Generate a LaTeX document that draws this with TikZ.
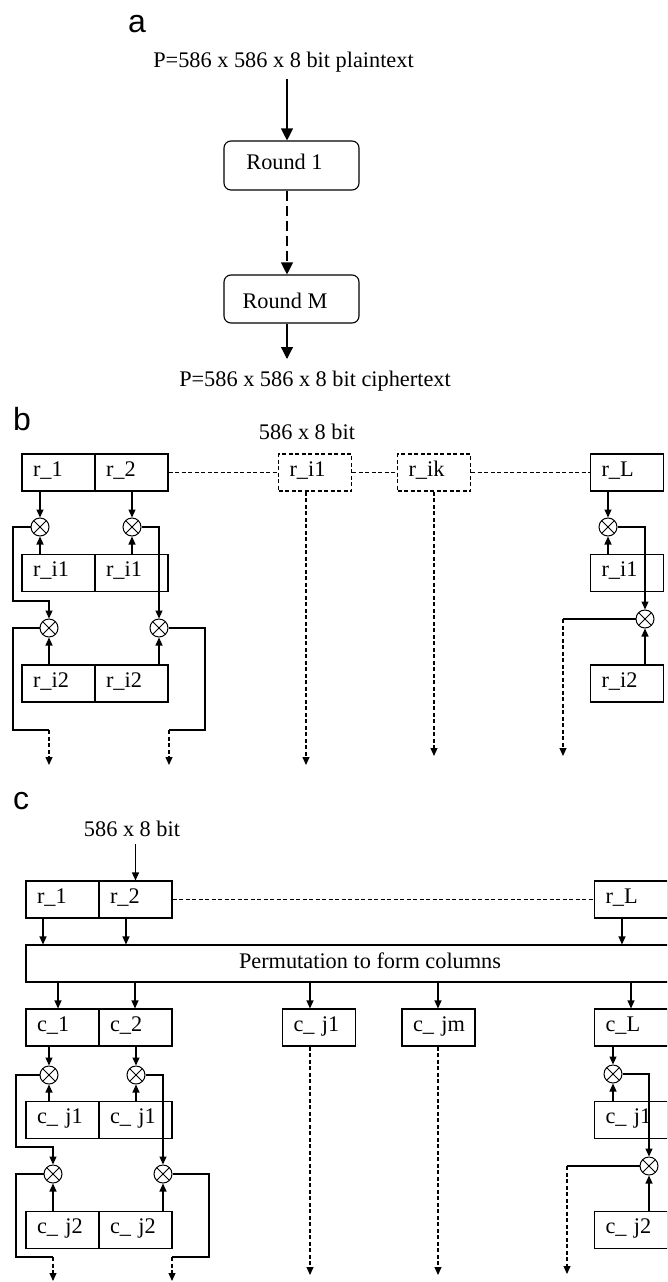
\documentclass[tikz,border=0pt]{standalone}
\usepackage{fontspec}
\setmainfont{Liberation Serif}
\newfontfamily\labfont{Liberation Sans}
\usetikzlibrary{arrows.meta}
\begin{document}
\begin{tikzpicture}[x=1pt,y=-1pt,
  line width=1.1pt,
  font=\fontsize{22.3}{26}\selectfont,
  every node/.style={inner sep=0pt},
  panel/.style={font=\labfont\fontsize{32}{36}\selectfont},
  txt/.style={anchor=base},
  rbox/.style={draw, rectangle, rounded corners=7pt, minimum width=135pt},
  cell/.style={draw, rectangle, minimum height=37pt, text width=51pt, inner xsep=11pt, inner ysep=0pt, align=left, text height=15pt, text depth=8pt,
    execute at begin node={\leavevmode\hbox\bgroup}, execute at end node={\egroup}},
  dl/.style={dash pattern=on 4pt off 2.5pt},
  dcell/.style={cell, dl},
  xor/.style={draw, circle, minimum size=18pt, line width=1pt, path picture={\draw[line width=0.9pt] (path picture bounding box.north west) -- (path picture bounding box.south east) (path picture bounding box.south west) -- (path picture bounding box.north east);}},
  arr/.style={-{Triangle[length=8pt,width=7pt]}},
  bigarr/.style={-{Triangle[length=12pt,width=12pt]}},
]
\useasboundingbox (0,0) rectangle (667,1282);
\clip (0,0) rectangle (667,1282);

% ---------- part a ----------
\node[panel] (la) at (137,24) {a};
\node[txt] (pt) at (283.5,67) {P=586 x 586 x 8 bit plaintext};
\node[rbox, minimum height=49pt] (rd1) at (291.5,165.5) {};
\node[txt] (rd1t) at (284.5,169) {Round 1};
\node[rbox, minimum height=48pt] (rdm) at (291.5,299) {};
\node[txt] (rdmt) at (285,308.3) {Round M};
\node[txt] (ct) at (315,386.5) {P=586 x 586 x 8 bit ciphertext};
\coordinate (a0) at (287,79);
\coordinate (a3) at (287,359);
\draw[bigarr] (a0) -- (a0 |- rd1.north);
\draw[bigarr, dash pattern=on 10pt off 5pt] (rd1.south -| a0) -- (rdm.north -| a0);
\draw[bigarr] (rdm.south -| a3) -- (a3);

% ---------- part b ----------
\node[panel] (lb) at (22,419) {b};
\node[txt] (wb) at (307,439) {586 x 8 bit};
\node[cell] (r1) at (58.5,472.5) {r\_1};
\node[cell] (r2) at (131.5,472.5) {r\_2};
\node[dcell] (ri1) at (315,472.5) {r\_i1};
\node[dcell] (rik) at (434,472.5) {r\_ik};
\node[cell] (rL) at (627,472.5) {r\_L};
\draw[dl] (r2.east) -- (ri1.west);
\draw[dl] (ri1.east) -- (rik.west);
\draw[dl] (rik.east) -- (rL.west);

\node[xor] (x1) at (40,527) {};
\node[xor] (x2) at (132,527) {};
\node[cell] (a1) at (58.5,573) {r\_i1};
\node[cell] (a2) at (131.5,573) {r\_i1};
\node[xor] (x3) at (49,628) {};
\node[xor] (x4) at (159,628) {};
\node[cell] (b1) at (58.5,683.5) {r\_i2};
\node[cell] (b2) at (131.5,683.5) {r\_i2};
\draw[arr] (r1.south -| x1) -- (x1.north);
\draw[arr] (r2.south -| x2) -- (x2.north);
\draw[arr] (a1.north -| x1) -- (x1.south);
\draw[arr] (a2.north -| x2) -- (x2.south);
\draw[arr] (x1.west) -| (13,601) -| (x3.north);
\draw[arr] (x2.east) -| (x4.north);
\draw[arr] (b1.north -| x3) -- (x3.south);
\draw[arr] (b2.north -| x4) -- (x4.south);
\coordinate (o1) at (49,730);
\coordinate (o1e) at (49,765);
\draw (x3.west) -| (13,730) -- (o1);
\draw[arr,dl] (o1) -- (o1e);
\coordinate (o2) at (169,730);
\coordinate (o2e) at (169,765);
\draw (x4.east) -| (205,730) -- (o2);
\draw[arr,dl] (o2) -- (o2e);
\coordinate (d1) at (306,765);
\draw[arr,dl] (ri1.south -| d1) -- (d1);
\coordinate (d2) at (434,756);
\draw[arr,dl] (rik.south -| d2) -- (d2);

\node[xor] (x5) at (608,527) {};
\node[xor] (x6) at (645,619) {};
\node[cell] (a3) at (627,573) {r\_i1};
\node[cell] (b3) at (627,683.5) {r\_i2};
\draw[arr] (rL.south -| x5) -- (x5.north);
\draw[arr] (a3.north -| x5) -- (x5.south);
\draw[arr] (x5.east) -| (x6.north);
\draw[arr] (b3.north -| x6) -- (x6.south);
\coordinate (o3) at (563,619);
\coordinate (o3e) at (563,756);
\draw (x6.west) -- (o3);
\draw[arr,dl] (o3) -- (o3e);

% ---------- part c ----------
\node[panel] (lc) at (21,801) {c};
\node[txt] (wc) at (132,836) {586 x 8 bit};
\node[cell] (cr1) at (62.5,899.5) {r\_1};
\node[cell] (cr2) at (135.5,899.5) {r\_2};
\node[cell] (crL) at (631,899.5) {r\_L};
\coordinate (c0) at (135.5,844);
\draw[arr] (c0) -- (cr2.north);
\draw[dl] (cr2.east) -- (crL.west);
\node[draw, minimum width=688pt, minimum height=37pt, text height=15pt, text depth=5pt] (perm) at (370,963.5) {Permutation to form columns};
\coordinate (k1) at (43,0);
\coordinate (k2) at (126,0);
\coordinate (k3) at (622,0);
\draw[arr] (cr1.south -| k1) -- (perm.north -| k1);
\draw[arr] (cr2.south -| k2) -- (perm.north -| k2);
\draw[arr] (crL.south -| k3) -- (perm.north -| k3);

\node[cell] (c1) at (62.5,1027.5) {c\_1};
\node[cell] (c2) at (135.5,1027.5) {c\_2};
\node[cell] (cj1) at (319,1027.5) {c\_ j1};
\node[cell] (cjm) at (438.5,1027.5) {c\_ jm};
\node[cell] (cL) at (631,1027.5) {c\_L};
\coordinate (m1) at (58,0);
\coordinate (m2) at (135,0);
\coordinate (m3) at (310,0);
\coordinate (m4) at (438,0);
\coordinate (m5) at (631,0);
\draw[arr] (perm.south -| m1) -- (c1.north -| m1);
\draw[arr] (perm.south -| m2) -- (c2.north -| m2);
\draw[arr] (perm.south -| m3) -- (cj1.north -| m3);
\draw[arr] (perm.south -| m4) -- (cjm.north -| m4);
\draw[arr] (perm.south -| m5) -- (cL.north -| m5);
\coordinate (e1) at (310,1275);
\coordinate (e2) at (438,1275);
\draw[arr,dl] (cj1.south -| e1) -- (e1);
\draw[arr,dl] (cjm.south -| e2) -- (e2);

\node[xor] (x7) at (49,1075) {};
\node[xor] (x8) at (136,1075) {};
\node[cell] (g1) at (62.5,1120) {c\_ j1};
\node[cell] (g2) at (135.5,1120) {c\_ j1};
\node[xor] (x9) at (53,1174) {};
\node[xor] (x10) at (163,1174) {};
\node[cell] (h1) at (62.5,1230) {c\_ j2};
\node[cell] (h2) at (135.5,1230) {c\_ j2};
\draw[arr] (c1.south -| x7) -- (x7.north);
\draw[arr] (c2.south -| x8) -- (x8.north);
\draw[arr] (g1.north -| x7) -- (x7.south);
\draw[arr] (g2.north -| x8) -- (x8.south);
\draw[arr] (x7.west) -| (16,1147) -| (x9.north);
\draw[arr] (x8.east) -| (x10.north);
\draw[arr] (h1.north -| x9) -- (x9.south);
\draw[arr] (h2.north -| x10) -- (x10.south);
\coordinate (o4) at (53,1257);
\coordinate (o4e) at (53,1281);
\draw (x9.west) -| (16,1257) -- (o4);
\draw[arr,dl] (o4) -- (o4e);
\coordinate (o5) at (172,1257);
\coordinate (o5e) at (172,1281);
\draw (x10.east) -| (209,1257) -- (o5);
\draw[arr,dl] (o5) -- (o5e);

\node[xor] (x11) at (613,1074) {};
\node[xor] (x12) at (649,1166) {};
\node[cell] (g3) at (631,1120) {c\_ j1};
\node[cell] (h3) at (631,1230) {c\_ j2};
\draw[arr] (cL.south -| x11) -- (x11.north);
\draw[arr] (g3.north -| x11) -- (x11.south);
\draw[arr] (x11.east) -| (x12.north);
\draw[arr] (h3.north -| x12) -- (x12.south);
\coordinate (o6) at (567,1166);
\coordinate (o6e) at (567,1274);
\draw (x12.west) -- (o6);
\draw[arr,dl] (o6) -- (o6e);
\end{tikzpicture}
\end{document}
